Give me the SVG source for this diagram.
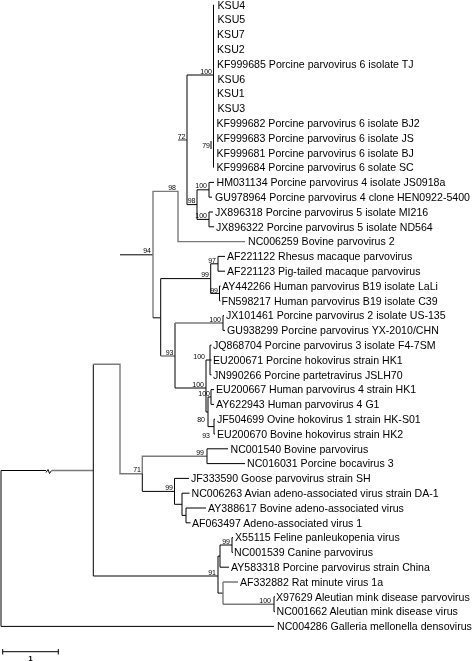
<svg xmlns="http://www.w3.org/2000/svg" width="473" height="661" viewBox="0 0 473 661">
<style>
.e{fill:none;stroke:#000;stroke-width:1}
.g{fill:none;stroke:#7a7a7a;stroke-width:1.4}
.t{font-family:"Liberation Sans",Arial,sans-serif;font-size:10.6px;fill:#000}
.b{font-family:"Liberation Sans",Arial,sans-serif;font-size:7px;fill:#000;text-anchor:end}
</style>
<defs>
<filter id="gs" x="0" y="0" width="473" height="661" filterUnits="userSpaceOnUse"><feOffset dx="0" dy="0"/></filter>
</defs>
<rect width="473" height="661" fill="#fff"/>
<g id="connectors">
<path class="e" d="M1,470.5V626.4H274M1,470.5H46"/>
<path class="e" d="M46,472.5l2,-3l1.5,4l2,-3"/>
<path class="g" d="M52,470.5H93.3"/>
<path class="e" d="M93.3,364.3V576H218"/>
<path class="g" d="M93.3,364.3H120V473.8H142.3"/>
<path class="e" d="M120,254.8H153"/>
<path class="g" d="M153,254.8V191.4H178V241.6H245M178,140H187"/>
<path class="g" d="M153,254.8V317.8"/>
<path class="e" d="M153,317.8H160.7V278.6H210.7M160.7,317.8V356"/>
<path class="g" d="M160.7,356H175"/>
<path class="e" d="M187,75V204.6H197M187,75H213.5M213.5,4.8V167.6M211,141V149"/>
<path class="e" d="M197,189.8V219.4M197,189.8H209V182.4M209,189.8V197.2M197,219.4H209V212M209,219.4V226.8M209,182.4H214M209,197.2H212M209,212H213M209,226.8H214"/>
<path class="e" d="M210.7,278.6V263.8H218M210.7,278.6V293.4H219.5M218,256.4V271.2M218,256.4H225M218,271.2H225M219.5,286V300.8M219.5,286H220.5M219.5,300.8H220.5"/>
<path class="e" d="M175,356V323M175,356V388H206"/>
<path class="g" d="M175,323H223"/>
<path class="e" d="M223,315.6V330.4M223,315.6H224M223,330.4H225"/>
<path class="e" d="M206,360V412M206,360H210M210,345.2V374.8M210,345.2H211.5M210,360H211.5M210,374.8H211.5M206,412H208V397H211M208,412V426.6H214M211,389.6V404.4M211,389.6H214M211,404.4H214M214,419.2V434M214,419.2H215M214,434H215"/>
<path class="g" d="M142.3,473.8V456.2H207"/>
<path class="e" d="M142.3,473.8V491.4H174.5"/>
<path class="e" d="M207,448.8V463.6M207,448.8H228M207,463.6H245"/>
<path class="e" d="M174.5,478.4V504.3H182M174.5,478.4H189M182,493.2V515.4H186M182,493.2H189.5M186,508V522.8M186,508H206M186,522.8H190.5"/>
<path class="e" d="M218,576V556.1H220M218,576V593.1H223M220,545V567.2M220,545H232M220,567.2H229M232,537.6V552.4M232,537.6H233M232,552.4H233"/>
<path class="g" d="M223,582V604.2M223,582H238M223,604.2H274"/>
<path class="e" d="M274,596.8V611.6M274,596.8H275M274,611.6H275"/>
<path class="e" d="M2.7,651.7H58.3M2.7,649V654.5M58.3,649V654.5"/>
</g>
<g id="leaves" filter="url(#gs)">
<g id="n-KSU4"><text class="t" x="217.5" y="8.6">KSU4</text></g>
<g id="n-KSU5"><text class="t" x="217.5" y="23.4">KSU5</text></g>
<g id="n-KSU7"><text class="t" x="217" y="38.2">KSU7</text></g>
<g id="n-KSU2"><text class="t" x="217" y="53">KSU2</text></g>
<g id="n-KF999685"><text class="t" x="217" y="67.8">KF999685 Porcine parvovirus 6 isolate TJ</text></g>
<g id="n-KSU6"><text class="t" x="217.5" y="82.6">KSU6</text></g>
<g id="n-KSU1"><text class="t" x="217" y="97.4">KSU1</text></g>
<g id="n-KSU3"><text class="t" x="217.5" y="112.2">KSU3</text></g>
<g id="n-KF999682"><text class="t" x="216.5" y="127">KF999682 Porcine parvovirus 6 isolate BJ2</text></g>
<g id="n-KF999683"><text class="t" x="216.5" y="141.8">KF999683 Porcine parvovirus 6 isolate JS</text></g>
<g id="n-KF999681"><text class="t" x="216.5" y="156.6">KF999681 Porcine parvovirus 6 isolate BJ</text></g>
<g id="n-KF999684"><text class="t" x="216.5" y="171.4">KF999684 Porcine parvovirus 6 solate SC</text></g>
<g id="n-HM031134"><text class="t" x="216.5" y="186.2">HM031134 Porcine parvovirus 4 isolate JS0918a</text></g>
<g id="n-GU978964"><text class="t" x="215" y="201">GU978964 Porcine parvovirus 4 clone HEN0922-5400</text></g>
<g id="n-JX896318"><text class="t" x="215" y="215.8">JX896318 Porcine parvovirus 5 isolate MI216</text></g>
<g id="n-JX896322"><text class="t" x="216" y="230.6">JX896322 Porcine parvovirus 5 isolate ND564</text></g>
<g id="n-NC006259"><text class="t" x="248" y="245.4">NC006259 Bovine parvovirus 2</text></g>
<g id="n-AF221122"><text class="t" x="227" y="260.2">AF221122 Rhesus macaque parvovirus</text></g>
<g id="n-AF221123"><text class="t" x="227" y="275">AF221123 Pig-tailed macaque parvovirus</text></g>
<g id="n-AY442266"><text class="t" x="222" y="289.8">AY442266 Human parvovirus B19 isolate LaLi</text></g>
<g id="n-FN598217"><text class="t" x="221.5" y="304.6">FN598217 Human parvovirus B19 isolate C39</text></g>
<g id="n-JX101461"><text class="t" x="226" y="319.4">JX101461 Porcine parvovirus 2 isolate US-135</text></g>
<g id="n-GU938299"><text class="t" x="227" y="334.2">GU938299 Porcine parvovirus YX-2010/CHN</text></g>
<g id="n-JQ868704"><text class="t" x="213" y="349">JQ868704 Porcine parvovirus 3 isolate F4-7SM</text></g>
<g id="n-EU200671"><text class="t" x="213" y="363.8">EU200671 Porcine hokovirus strain HK1</text></g>
<g id="n-JN990266"><text class="t" x="213" y="378.6">JN990266 Porcine partetravirus JSLH70</text></g>
<g id="n-EU200667"><text class="t" x="216" y="393.4">EU200667 Human parvovirus 4 strain HK1</text></g>
<g id="n-AY622943"><text class="t" x="216" y="408.2">AY622943 Human parvovirus 4 G1</text></g>
<g id="n-JF504699"><text class="t" x="217" y="423">JF504699 Ovine hokovirus 1 strain HK-S01</text></g>
<g id="n-EU200670"><text class="t" x="217" y="437.8">EU200670 Bovine hokovirus strain HK2</text></g>
<g id="n-NC001540"><text class="t" x="230.5" y="452.6">NC001540 Bovine parvovirus</text></g>
<g id="n-NC016031"><text class="t" x="247" y="467.4">NC016031 Porcine bocavirus 3</text></g>
<g id="n-JF333590"><text class="t" x="191" y="482.2">JF333590 Goose parvovirus strain SH</text></g>
<g id="n-NC006263"><text class="t" x="191.5" y="497">NC006263 Avian adeno-associated virus strain DA-1</text></g>
<g id="n-AY388617"><text class="t" x="208" y="511.8">AY388617 Bovine adeno-associated virus</text></g>
<g id="n-AF063497"><text class="t" x="192" y="526.6">AF063497 Adeno-associated virus 1</text></g>
<g id="n-X55115"><text class="t" x="235" y="541.4">X55115 Feline panleukopenia virus</text></g>
<g id="n-NC001539"><text class="t" x="234" y="556.2">NC001539 Canine parvovirus</text></g>
<g id="n-AY583318"><text class="t" x="231" y="571">AY583318 Porcine parvovirus strain China</text></g>
<g id="n-AF332882"><text class="t" x="240" y="585.8">AF332882 Rat minute virus 1a</text></g>
<g id="n-X97629"><text class="t" x="276" y="600.6">X97629 Aleutian mink disease parvovirus</text></g>
<g id="n-NC001662"><text class="t" x="276.5" y="615.4">NC001662 Aleutian mink disease virus</text></g>
<g id="n-NC004286"><text class="t" x="277" y="630.2">NC004286 Galleria mellonella densovirus</text></g>
</g>
<g id="bootstrap" filter="url(#gs)">
<g id="b-ppv6"><text class="b" x="212" y="73.5">100</text></g>
<g id="b-72"><text class="b" x="185.5" y="138.5">72</text></g>
<g id="b-79"><text class="b" x="210" y="147.5">79</text></g>
<g id="b-98o"><text class="b" x="176" y="190">98</text></g>
<g id="b-98i"><text class="b" x="195.5" y="203">98</text></g>
<g id="b-ppv4"><text class="b" x="207" y="188.3">100</text></g>
<g id="b-ppv5"><text class="b" x="207" y="218">100</text></g>
<g id="b-94"><text class="b" x="151" y="253.3">94</text></g>
<g id="b-97"><text class="b" x="216" y="262.5">97</text></g>
<g id="b-99a"><text class="b" x="209" y="277.1">99</text></g>
<g id="b-99b"><text class="b" x="218" y="292.5">99</text></g>
<g id="b-ppv2"><text class="b" x="221" y="321.5">100</text></g>
<g id="b-93"><text class="b" x="173.5" y="354.5">93</text></g>
<g id="b-ppv3"><text class="b" x="205" y="358.5">100</text></g>
<g id="b-hoko"><text class="b" x="204" y="386.5">100</text></g>
<g id="b-hpv4"><text class="b" x="210" y="396">100</text></g>
<g id="b-80"><text class="b" x="205" y="422">80</text></g>
<g id="b-93b"><text class="b" x="210" y="437.5">93</text></g>
<g id="b-71"><text class="b" x="141" y="472.3">71</text></g>
<g id="b-99c"><text class="b" x="204" y="454.7">99</text></g>
<g id="b-99d"><text class="b" x="173" y="489.9">99</text></g>
<g id="b-99e"><text class="b" x="230" y="543.5">99</text></g>
<g id="b-91"><text class="b" x="216" y="574.5">91</text></g>
<g id="b-100m"><text class="b" x="271" y="602.7">100</text></g>
</g>
<g id="scale" filter="url(#gs)"><text x="30.5" y="660.5" font-family="Liberation Sans, Arial, sans-serif" font-size="8" font-weight="bold" text-anchor="middle">1</text></g>
</svg>
